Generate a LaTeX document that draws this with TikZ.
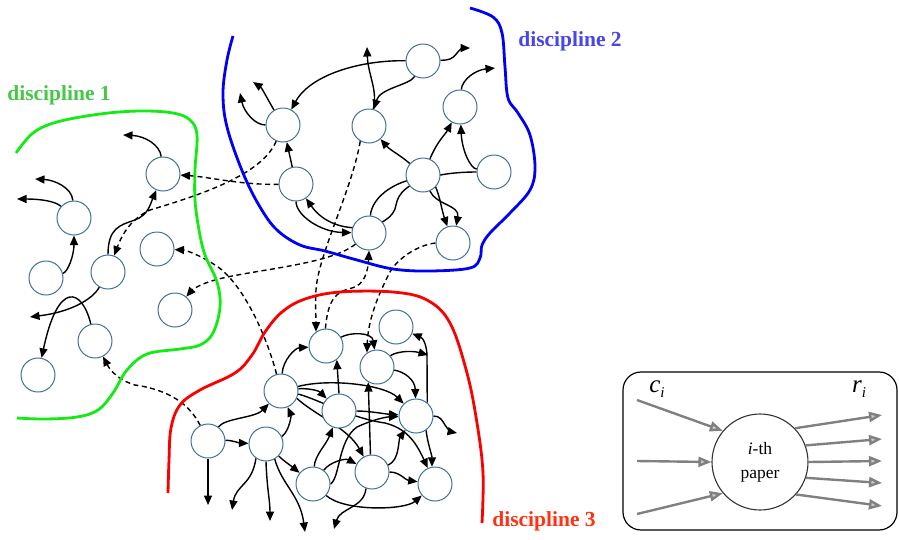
\documentclass[tikz,border=0pt]{standalone}
\usepackage{fontspec}
\setmainfont{Liberation Serif}
\usetikzlibrary{arrows.meta}
\definecolor{nodeblue}{RGB}{65,113,156}
\definecolor{greenline}{RGB}{20,235,20}
\definecolor{greentext}{RGB}{70,200,70}
\definecolor{blueline}{RGB}{0,0,245}
\definecolor{bluetext}{RGB}{70,70,235}
\definecolor{redline}{RGB}{250,0,0}
\definecolor{redtext}{RGB}{255,50,20}
\definecolor{legendgray}{RGB}{128,128,128}
\pgfdeclarelayer{edges}
\pgfsetlayers{edges,main}
\tikzset{
  paper/.style={circle, draw=nodeblue, line width=1pt, fill=white,
    minimum size=34pt, inner sep=0pt},
  cite/.style={line width=1.4pt, -{Triangle[length=9.5pt,width=8pt]}},
  xcite/.style={cite, dash pattern=on 5pt off 3.5pt},
  fieldline/.style={line width=2.8pt, smooth, tension=0.6},
  fieldlabel/.style={font=\fontsize{21.5}{24}\selectfont\bfseries, inner sep=0pt},
  legarrow/.style={draw=legendgray, line width=2.4pt,
    -{Triangle[length=13pt,width=10pt,fill=legendgray!40]}},
}
\begin{document}
\begin{tikzpicture}[x=1pt,y=-1pt]
\useasboundingbox (0,0) rectangle (899,539);

% ---------- field boundaries ----------
\draw[fieldline, greenline] plot coordinates {(16,153) (33,133) (57,122) (100,114) (140,111) (173,113) (190,120) (197,135) (195,170) (195,200) (199,230) (205,255) (217,282) (220,307) (213,333) (200,345) (180,349) (147,354) (127,370) (113,393) (98,410) (77,417) (45,419) (17,418)};
\draw[fieldline, blueline] plot coordinates {(233,36) (227,60) (223,93) (227,127) (243,173) (260,207) (277,230) (300,245) (325,251) (357,260) (393,269) (430,271) (470,268) (480,258) (482,245) (490,233) (510,213) (530,190) (535,167) (530,135) (518,113) (508,98) (505,67) (502,33) (493,17) (470,8)};
\draw[fieldline, redline] plot coordinates {(168,493) (169,460) (171,428) (180,405) (200,390) (235,373) (252,355) (265,332) (282,312) (305,299) (340,292) (393,292) (427,300) (450,323) (467,373) (477,423) (483,473) (482,523)};

\node[fieldlabel, text=greentext] (lab1) at (59,95) {discipline 1};
\node[fieldlabel, text=bluetext] (lab2) at (570,41) {discipline 2};
\node[fieldlabel, text=redtext] (lab3) at (544,521) {discipline 3};

% ---------- papers ----------
\node[paper] (A1) at (163,174) {};
\node[paper] (A2) at (74,218) {};
\node[paper] (A3) at (46,278) {};
\node[paper] (A4) at (108,272) {};
\node[paper] (A5) at (157,249) {};
\node[paper] (A6) at (175,310) {};
\node[paper] (A7) at (95,341) {};
\node[paper] (A8) at (38,375) {};

\node[paper] (B1) at (423,61) {};
\node[paper] (B2) at (283,125) {};
\node[paper] (B3) at (369,126) {};
\node[paper] (B4) at (460,107) {};
\node[paper] (B5) at (296,184) {};
\node[paper] (B6) at (423,175) {};
\node[paper] (B7) at (494,172) {};
\node[paper] (B8) at (369,233) {};
\node[paper] (B9) at (453,243) {};

\node[paper] (C1) at (326,346) {};
\node[paper] (C2) at (396,327) {};
\node[paper] (C3) at (377,367) {};
\node[paper] (C4) at (281,391) {};
\node[paper] (C5) at (339,411) {};
\node[paper] (C6) at (416,416) {};
\node[paper] (C7) at (208,441) {};
\node[paper] (C8) at (266,444) {};
\node[paper] (C9) at (313,484) {};
\node[paper] (C10) at (372,472) {};
\node[paper] (C11) at (435,484) {};

% loose ends of citations leaving the picture
\coordinate (a1t) at (123,135);
\coordinate (a2t1) at (35,179);
\coordinate (a2t2) at (17,199);
\coordinate (a4t) at (30,317);
\coordinate (b1t) at (470,48);
\coordinate (b3t) at (367,47);
\coordinate (b2t1) at (253,82);
\coordinate (b2t2) at (240,93);
\coordinate (b4t) at (495,68);
\coordinate (c3t) at (428,355);
\coordinate (c6t) at (457,433);
\coordinate (c7t) at (208,505);
\coordinate (c8t1) at (232,510);
\coordinate (c8t2) at (270,521);
\coordinate (c8t3) at (305,532);
\coordinate (c10t) at (334,529);

\begin{pgfonlayer}{edges}
% discipline 1
\draw[cite] (A1) .. controls (160,145) and (145,136) .. (a1t);
\draw[cite] (A2) .. controls (72,188) and (55,180) .. (a2t1);
\draw[cite] (A2) .. controls (55,201) and (40,199) .. (a2t2);
\draw[cite] (A3) .. controls (68,272) and (74,255) .. (A2);
\draw[cite] (A4) .. controls (108,228) and (120,225) .. (135,220) .. controls (148,215) and (150,205) .. (A1);
\draw[cite] (A4) .. controls (92,300) and (70,312) .. (a4t);
\draw[cite] (A7) .. controls (82,288) and (58,280) .. (A8);

% citations into discipline 1
\draw[xcite] (B5) .. controls (240,185) and (210,177) .. (A1);
\draw[xcite] (B2) .. controls (262,175) and (200,195) .. (150,210) .. controls (128,220) and (120,240) .. (A4);
\draw[xcite] (C4) .. controls (265,330) and (240,280) .. (215,265) .. controls (200,255) and (185,250) .. (A5);
\draw[xcite] (B8) .. controls (330,265) and (250,270) .. (215,280) .. controls (200,284) and (192,290) .. (A6);
\draw[xcite] (C7) .. controls (190,405) and (170,390) .. (135,385) .. controls (118,380) and (110,370) .. (A7);

% discipline 2
\draw[cite] (B1) .. controls (360,60) and (310,75) .. (B2);
\draw[cite] (B1) .. controls (448,60) and (452,60) .. (457,53) .. controls (460,49) and (463,48) .. (b1t);
\draw[cite] (B1) .. controls (410,85) and (380,88) .. (B3);
\draw[cite] (B3) .. controls (378,90) and (368,75) .. (b3t);
\draw[cite] (B2) .. controls (268,100) and (262,88) .. (b2t1);
\draw[cite] (B2) .. controls (255,125) and (244,112) .. (b2t2);
\draw[cite] (B5) -- (B2);
\draw[cite] (B5) .. controls (296,215) and (320,232) .. (B8);
\draw[cite] (B7) .. controls (440,172) and (400,180) .. (396,205) .. controls (393,230) and (335,240) .. (B5);
\draw[cite] (B8) .. controls (372,195) and (400,178) .. (425,178) .. controls (438,178) and (440,205) .. (B9);
\draw[cite] (B6) .. controls (436,205) and (460,205) .. (B9);
\draw[cite] (B6) .. controls (400,155) and (390,150) .. (B3);
\draw[cite] (B6) .. controls (438,140) and (445,135) .. (B4);
\draw[cite] (B7) .. controls (470,168) and (462,150) .. (B4);
\draw[cite] (B4) .. controls (462,80) and (475,70) .. (b4t);

% citations between disciplines 2 and 3
\draw[xcite] (B3.240) .. controls (352,190) and (318,255) .. (316,290) .. controls (315,305) and (316,315) .. (C1.125);
\draw[xcite] (C1.92) .. controls (328,300) and (335,292) .. (352,288) .. controls (364,285) and (368,272) .. (B8.south);
\draw[xcite] (B9.west) .. controls (418,245) and (398,258) .. (390,272) .. controls (378,295) and (368,320) .. (C3.125);

% discipline 3
\draw[cite] (C4) .. controls (283,360) and (295,348) .. (C1);
\draw[cite] (C1) .. controls (350,332) and (372,332) .. (C3);
\draw[cite] (C3) .. controls (395,352) and (410,350) .. (c3t);
\draw[cite] (C6.50) -- (427,357) .. controls (427,345) and (423,338) .. (C2);
\draw[cite] (C3) .. controls (405,372) and (415,380) .. (C6);
\draw[cite] (C5.north) -- (C1.-52);
\draw[cite] (C4) .. controls (305,388) and (318,390) .. (C5);
\draw[cite] (C4) .. controls (330,378) and (385,385) .. (C6);
\draw[cite] (C10.95) -- (C3.240);
\draw[cite] (C5) .. controls (370,411) and (385,414) .. (C6);
\draw[cite] (C9.east) .. controls (340,478) and (338,440) .. (357,427) .. controls (372,420) and (385,417) .. (C6);
\draw[cite] (C4.-25) .. controls (315,415) and (348,428) .. (C10);
\draw[cite] (C4.-10) .. controls (320,400) and (350,418) .. (385,423) .. controls (405,428) and (415,440) .. (C11);
\draw[cite] (C9) .. controls (315,455) and (326,445) .. (C5);
\draw[cite] (C9) .. controls (330,462) and (345,458) .. (C10);
\draw[cite] (C9) .. controls (345,512) and (405,510) .. (C11);
\draw[cite] (C10) .. controls (400,472) and (405,480) .. (C11);
\draw[cite] (C10) .. controls (400,460) and (398,440) .. (C6);
\draw[cite] (C10.250) .. controls (364,508) and (340,508) .. (c10t);
\draw[cite] (C6) .. controls (440,416) and (442,420) .. (445,425) .. controls (448,430) and (452,432) .. (c6t);
\draw[cite] (C6.-55) .. controls (428,445) and (432,455) .. (C11.100);
\draw[cite] (C7) .. controls (225,418) and (255,418) .. (C4);
\draw[cite] (C7) .. controls (230,440) and (240,443) .. (C8);
\draw[cite] (C7) -- (c7t);
\draw[cite] (C8.-125) .. controls (252,485) and (236,485) .. (c8t1);
\draw[cite] (C8.south) .. controls (267,490) and (270,500) .. (c8t2);
\draw[cite] (C8.-60) .. controls (282,485) and (300,495) .. (c8t3);
\draw[cite] (C8.25) .. controls (290,430) and (291,415) .. (C4);
\draw[cite] (C8) .. controls (285,462) and (290,465) .. (C9);
\end{pgfonlayer}

% ---------- legend ----------
\draw[rounded corners=18pt, line width=1.2pt] (623,372) rectangle (897,530);
\node[circle, draw=black!80, line width=1.1pt, minimum size=96pt, inner sep=0pt,
  align=center, font=\fontsize{17.5}{24}\selectfont] (P) at (760,462) {\textit{i}-th\\paper};
\node[font=\fontsize{25}{28}\selectfont, inner sep=0pt] (ci) at (657,389)
  {\textit{c}\raisebox{-0.45ex}{\fontsize{15}{16}\selectfont\textit{i}}};
\node[font=\fontsize{25}{28}\selectfont, inner sep=0pt] (ri) at (859,389)
  {\textit{r}\raisebox{-0.45ex}{\fontsize{15}{16}\selectfont\textit{i}}};
\coordinate (in1) at (637,400);
\coordinate (in2) at (637,461);
\coordinate (in3) at (637,514);
\coordinate (out1) at (882,415);
\coordinate (out2) at (882,439);
\coordinate (out3) at (882,461);
\coordinate (out4) at (882,483);
\coordinate (out5) at (882,506);
\draw[legarrow] (in1) -- (P.140);
\draw[legarrow] (in2) -- (P.180);
\draw[legarrow] (in3) -- (P.-140);
\draw[legarrow] (P.44) -- (out1);
\draw[legarrow] (P.20) -- (out2);
\draw[legarrow] (P.0) -- (out3);
\draw[legarrow] (P.-19) -- (out4);
\draw[legarrow] (P.-42) -- (out5);
\end{tikzpicture}
\end{document}
